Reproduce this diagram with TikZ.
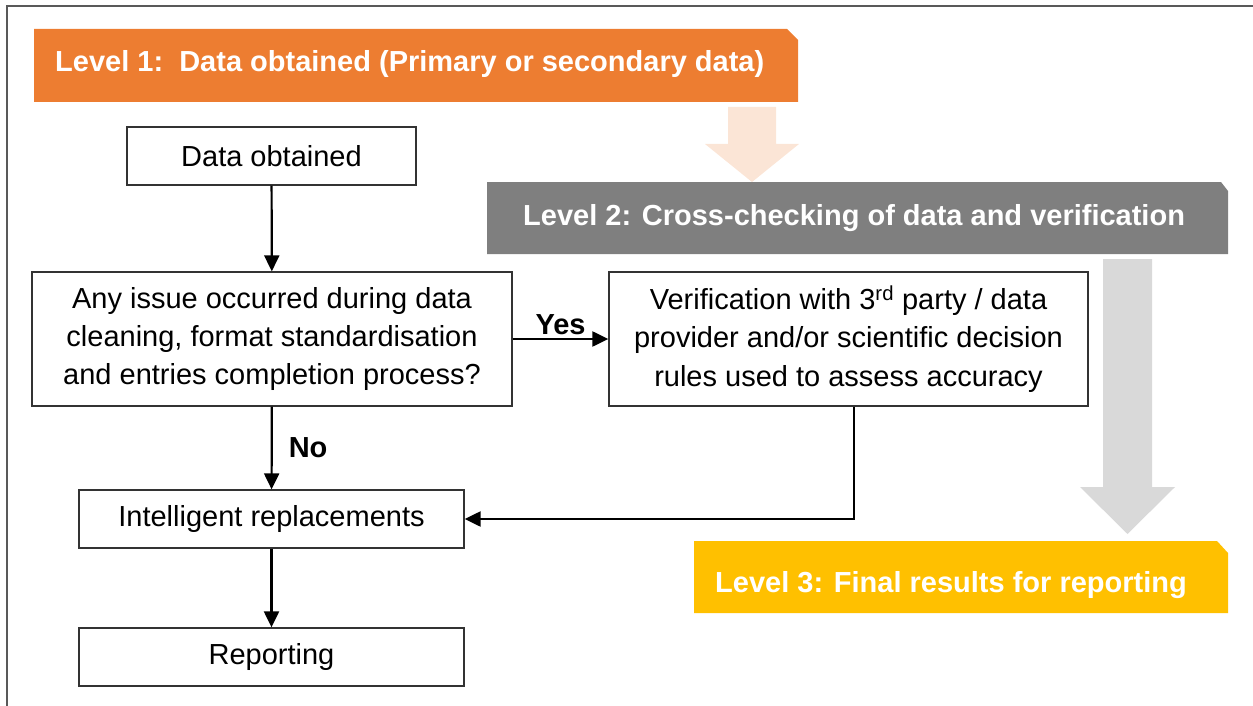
\documentclass[tikz,border=0pt]{standalone}
\usepackage{fontspec}
\setmainfont{Liberation Sans}
\usepackage{tikz}
\usetikzlibrary{arrows.meta}

\definecolor{lvlone}{HTML}{ED7D31}
\definecolor{lvlonelight}{HTML}{FBE5D6}
\definecolor{lvltwo}{HTML}{7F7F7F}
\definecolor{lvltwolight}{HTML}{D9D9D9}
\definecolor{lvlthree}{HTML}{FFC000}

\begin{document}
\begin{tikzpicture}[x=1pt, y=-1pt]
        \tikzstyle{every node}=[font=\fontsize{29}{38.5}\selectfont]
        \tikzstyle{box}=[draw=black!80, line width=1.3pt, inner sep=0pt, align=center]
        \tikzstyle{flow}=[line width=2.2pt, -{Triangle[length=16pt,width=15pt]}]
        \tikzstyle{banner}=[font=\fontsize{29}{35}\selectfont\bfseries, text=white, inner sep=0pt, anchor=base west]
        \useasboundingbox (0,0) rectangle (1253,706);
        \draw[line width=1.3pt, black!65] (7,712) -- (7,6) -- (1260,6);
        % level banners and big arrows
        \fill[lvlone] (34,29) -- (787,29) -- (798,40) -- (798,102) -- (34,102) -- cycle;
        \fill[lvlonelight] (728,107) -- (776,107) -- (776,144) -- (799,144) -- (752,182) -- (705,144) -- (728,144) -- cycle;
        \fill[lvltwo] (487,182) -- (1221,182) -- (1228,191) -- (1228,254) -- (487,254) -- cycle;
        \fill[lvltwolight] (1103,259) -- (1152,259) -- (1152,487) -- (1175,487) -- (1127.5,534) -- (1080,487) -- (1103,487) -- cycle;
        \fill[lvlthree] (694,541) -- (1217,541) -- (1228,553) -- (1228,613) -- (694,613) -- cycle;
        \node[banner] (l1) at (55,72) {Level 1:\ \ Data obtained (Primary or secondary data)};
        \node[banner] (l2) at (523,225) {Level 2: Cross-checking of data and verification};
        \node[banner] (l3) at (715,592) {Level 3: Final results for reporting};
        % process boxes
        \node[box, minimum width=289pt, minimum height=58pt] (obt) at (271.5,156) {Data obtained};
        \node[box, minimum width=480pt, minimum height=134pt] (iss) at (272,339) {Any issue occurred during data\\cleaning, format standardisation\\and entries completion process?};
        \node[box, minimum width=479pt, minimum height=134pt] (ver) at (848.5,339) {Verification with 3\textsuperscript{rd} party / data\\provider and/or scientific decision\\rules used to assess accuracy};
        \node[box, minimum width=385pt, minimum height=58pt] (rpl) at (271.5,519) {Intelligent replacements};
        \node[box, minimum width=385pt, minimum height=58pt] (rep) at (271.5,657) {Reporting};
        \coordinate (turn) at (854,517);
        \draw[flow] (obt) -- (iss);
        \draw[flow] (iss) -- node[above, font=\fontsize{29}{35}\selectfont\bfseries, inner sep=3pt] (yes) {Yes} (ver);
        \draw[flow] (iss) -- node[right, font=\fontsize{29}{35}\selectfont\bfseries, inner sep=16pt] (no) {No} (rpl);
        \draw[flow] (ver.south -| turn) |- (rpl.east);
        \draw[flow] (rpl) -- (rep);
      \end{tikzpicture}
\end{document}
